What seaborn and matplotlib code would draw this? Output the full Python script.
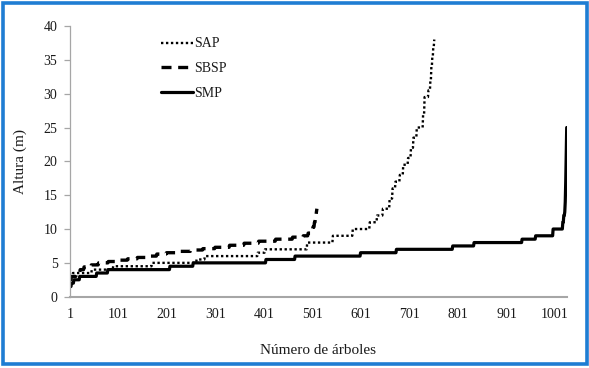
import numpy as np
import pandas as pd
import matplotlib
matplotlib.use("Agg")
import matplotlib.pyplot as plt
import seaborn as sns
from matplotlib.patches import Rectangle

# ---- data (sorted tree heights) ----
sap_n = 752
sap_starts = [1, 7, 46, 90, 170, 262, 279, 388, 403, 490, 543, 584, 619, 634, 646,
              660, 666, 672, 681, 688, 698, 704, 709, 716, 729, 732, 740, 744, 746,
              748, 750, 752]
sap_values = [3.0, 3.5, 4.0, 4.5, 5.0, 5.5, 6.0, 6.5, 7.0, 8.0, 9.0, 10.0, 11.0, 12.0,
              13.0, 14.5, 16.0, 17.0, 18.0, 19.5, 20.5, 22.0, 23.5, 25.0, 27.0, 29.5,
              30.5, 32.0, 34.0, 35.5, 37.0, 38.0]

sbsp_n = 510
sbsp_starts = [1, 4, 14, 22, 30, 45, 60, 80, 100, 120, 140, 160, 180, 200, 225, 250,
               275, 300, 330, 360, 390, 425, 460, 482, 492, 498, 502, 505, 507, 509, 510]
sbsp_values = [2.5, 3.0, 3.5, 4.0, 4.4, 4.7, 5.0, 5.2, 5.4, 5.6, 5.8, 6.0, 6.3, 6.5,
               6.7, 6.9, 7.1, 7.3, 7.6, 7.9, 8.2, 8.5, 8.8, 9.0, 9.4, 9.8, 10.3, 11.0,
               11.8, 12.5, 13.0]

smp_n = 1025
smp_starts = [1, 4, 9, 21, 56, 79, 207, 255, 405, 465, 600, 674, 790, 834, 933, 961,
              997, 1017, 1019, 1021, 1022, 1023, 1024, 1025]
smp_values = [1.5, 2.0, 2.5, 3.0, 3.5, 4.0, 4.5, 5.0, 5.5, 6.0, 6.5, 7.0, 7.5, 8.0,
              8.5, 9.0, 10.0, 11.0, 12.0, 12.5, 14.0, 17.0, 21.0, 25.0]

series_names = ["SAP", "SBSP", "SMP"]
x_ticks = [1, 101, 201, 301, 401, 501, 601, 701, 801, 901, 1001]
y_ticks = [0, 5, 10, 15, 20, 25, 30, 35, 40]


def expand(starts, values, n):
    counts = np.diff(list(starts) + [n + 1])
    return np.repeat(values, counts)


frames = []
for name, st, vals, n in [("SAP", sap_starts, sap_values, sap_n),
                          ("SBSP", sbsp_starts, sbsp_values, sbsp_n),
                          ("SMP", smp_starts, smp_values, smp_n)]:
    frames.append(pd.DataFrame({"arbol": np.arange(1, n + 1),
                                "altura": expand(st, vals, n),
                                "serie": name}))
df = pd.concat(frames, ignore_index=True)

sns.set_theme(style="white")
plt.rcParams["font.family"] = ["Liberation Serif", "DejaVu Serif"]

W, H = 589, 368
fig = plt.figure(figsize=(W / 100, H / 100), dpi=100)
fig.patch.set_facecolor("white")
ax = fig.add_axes([70 / W, 1 - 296.7 / H, 496.7 / W, 270.7 / H])

styles = {"SAP": dict(ls=(0, (1, 1.1)), lw=1.7),
          "SBSP": dict(ls=(0, (3.0, 2.0)), lw=2.4),
          "SMP": dict(ls="-", lw=2.3)}
for name in series_names:
    sub = df[df["serie"] == name]
    sns.lineplot(data=sub, x="arbol", y="altura", ax=ax, color="black",
                 estimator=None, sort=False, label=name,
                 linestyle=styles[name]["ls"], linewidth=styles[name]["lw"])

ax.set_xlim(1, 1025)
ax.set_ylim(0, 40)
ax.set_xticks(x_ticks)
ax.set_xticklabels([str(t) for t in x_ticks])
ax.set_yticks(y_ticks)
ax.set_yticklabels([str(t) for t in y_ticks])

for s in ["top", "right"]:
    ax.spines[s].set_visible(False)
ax.spines["left"].set_color("#a6a6a6")
ax.spines["left"].set_linewidth(0.9)
ax.spines["bottom"].set_color("#a6a6a6")
ax.spines["bottom"].set_linewidth(1.5)

ax.tick_params(axis="y", which="major", left=True, length=4, width=0.9,
               color="#a6a6a6", pad=5, labelsize=10, labelcolor="#1a1a1a")
ax.tick_params(axis="x", which="major", bottom=False, length=0, pad=8,
               labelsize=10, labelcolor="#1a1a1a")

ax.set_xlabel("Número de árboles", fontsize=11, color="#1a1a1a", labelpad=17)
ax.set_ylabel("Altura (m)", fontsize=11, color="#1a1a1a", labelpad=12)

leg = ax.legend(loc="upper left", bbox_to_anchor=(0.183, 0.958), frameon=False,
                fontsize=10, handlelength=2.3, handletextpad=0.1,
                labelspacing=0.85, borderpad=0, borderaxespad=0)
for t in leg.get_texts():
    t.set_color("#1a1a1a")

fig.patches.append(Rectangle((3 / W, 1 - 364 / H), 583.5 / W, 361 / H,
                             transform=fig.transFigure, fill=False,
                             edgecolor="#1f7dd3", linewidth=2.6, zorder=10))

fig.savefig("out.png", dpi=100)
